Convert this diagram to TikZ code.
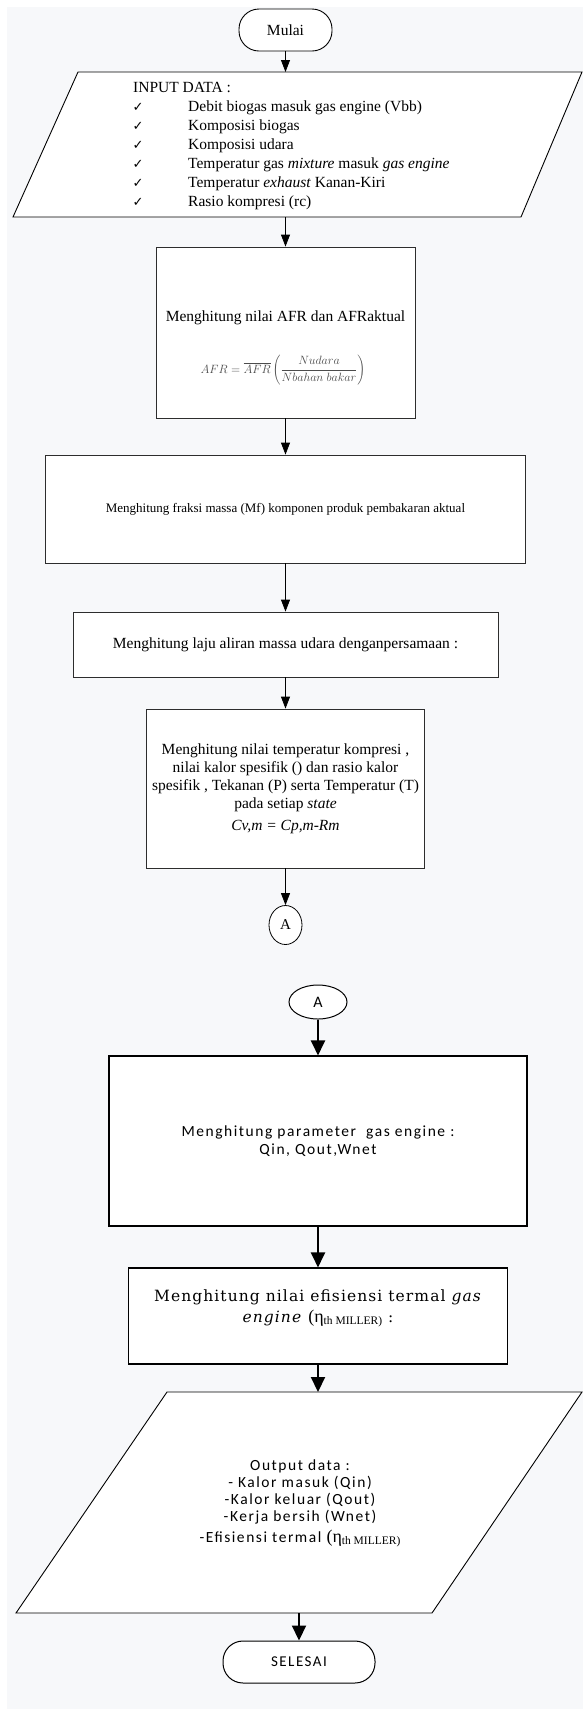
\documentclass[tikz,border=0pt]{standalone}
\usepackage{fontspec}
\setmainfont{Liberation Serif}
\newfontfamily\calib{Carlito}[LetterSpace=10]
\newfontfamily\calibplain{Carlito}
\newfontfamily\dvserif{DejaVu Serif}[LetterSpace=7]
\newfontfamily\dvsans{DejaVu Sans}
\usetikzlibrary{arrows.meta,shapes.geometric}
\definecolor{bgc}{RGB}{247,248,250}
\definecolor{bord}{RGB}{45,45,45}
\begin{document}
\begin{tikzpicture}[x=1pt,y=-1pt,
  box/.style={draw=bord,line width=0.8pt,fill=white,rectangle,inner sep=0pt,align=center},
  bigbox/.style={draw=black,line width=1.1pt,fill=white,rectangle,inner sep=0pt,align=center},
  term/.style={draw=black,line width=0.9pt,fill=white,rectangle,rounded corners=20pt,inner sep=0pt},
  iobox/.style={draw=black,line width=0.9pt,fill=white,line join=miter},
  arr/.style={line width=0.8pt,-{Triangle[length=12pt,width=9pt]}},
  bigarr/.style={line width=2pt,-{Triangle[length=15pt,width=14pt]}},
  txt/.style={inner sep=0pt,align=center,font=\fontsize{15.5}{18}\selectfont},
  ltxt/.style={inner sep=0pt,anchor=base west,font=\fontsize{15.5}{18}\selectfont},
  ck/.style={inner sep=0pt,anchor=base,font=\dvsans\fontsize{13}{14}\selectfont},
]
% background
\fill[white] (0,0) rectangle (583,1709);
\fill[bgc] (7,7) rectangle (583,1709);
\useasboundingbox (0,0) rectangle (583,1709);

% start
\node[term,minimum width=93pt,minimum height=42pt,font=\fontsize{15.5}{18}\selectfont] (mulai) at (285.5,30) {Mulai};

% input parallelogram
\draw[iobox] (78,72) -- (582,72) -- (521,217) -- (13,217) -- cycle;
\coordinate (inTop) at (285.5,72);
\coordinate (inBot) at (285.5,217);
\node[ltxt] (inhead) at (133,92) {INPUT DATA :};
\foreach \i/\t in {1/{Debit biogas masuk gas engine (Vbb)},
                   2/{Komposisi biogas},
                   3/{Komposisi udara},
                   4/{Temperatur gas \textit{mixture} masuk \textit{gas engine}},
                   5/{Temperatur \textit{exhaust} Kanan-Kiri},
                   6/{Rasio kompresi (rc)}}{
  \node[ck] (ck\i) at (138,92+19*\i) {✓};
  \node[ltxt] (it\i) at (188,92+19*\i) {\t};
}

% AFR box
\node[box,minimum width=259pt,minimum height=171pt] (afr) at (285.5,332.5) {};
\node[txt] (afrt) at (285.5,318) {Menghitung nilai AFR dan AFRaktual};
\node[inner sep=0pt,text=black!70,font=\fontsize{13}{15}\selectfont] (afrf) at (283,370)
  {$\displaystyle AFR = \overline{AFR}\left(\frac{Nudara}{Nbahan\ bakar}\right)$};

% Mf box
\node[box,minimum width=480pt,minimum height=108pt,font=\fontsize{13}{15}\selectfont] (mf) at (285.5,509)
  {Menghitung fraksi massa (Mf) komponen produk pembakaran aktual};

% laju box
\node[box,minimum width=425pt,minimum height=65pt,font=\fontsize{15.5}{18}\selectfont] (laju) at (285.5,644.5)
  {Menghitung laju aliran massa udara denganpersamaan :};

% temperature box
\node[box,minimum width=278pt,minimum height=159pt,font=\fontsize{15.5}{18}\selectfont] (temp) at (285.5,788.5)
  {Menghitung nilai temperatur kompresi ,\\
   nilai kalor spesifik () dan rasio kalor\\
   spesifik , Tekanan (P) serta Temperatur (T)\\
   pada setiap \textit{state}\\[4pt]
   \textit{Cv,m = Cp,m-Rm}};

% connector A (first)
\node[draw=black,line width=0.8pt,fill=white,ellipse,minimum width=33pt,minimum height=39pt,inner sep=0pt,
      font=\fontsize{15}{18}\selectfont] (a1) at (285.5,925) {A};

% connector A (second)
\node[draw=black,line width=1pt,fill=white,ellipse,minimum width=58pt,minimum height=34pt,inner sep=0pt,
      font=\calibplain\fontsize{16}{18}\selectfont] (a2) at (318,1002) {A};

% parameter box
\node[bigbox,minimum width=418pt,minimum height=170pt,font=\calib\fontsize{15.5}{18}\selectfont] (param) at (318,1141)
  {Menghitung parameter\ \ gas engine :\\Qin, Qout,Wnet};

% efficiency box
\node[bigbox,minimum width=379pt,minimum height=96pt] (eff) at (318,1316) {};
\node[inner sep=0pt,align=center,font=\dvserif\fontsize{15.5}{21}\selectfont] (efft) at (318,1308)
  {Menghitung nilai efisiensi termal \textit{gas}\\
   \textit{engine} {\rmfamily\fontsize{18}{21}\selectfont(η}\raisebox{-2pt}{\rmfamily\fontsize{11.5}{11}\selectfont th MILLER)} :};

% output parallelogram
\draw[iobox] (167,1392) -- (582,1392) -- (432,1613) -- (16,1613) -- cycle;
\coordinate (outTop) at (318,1392);
\coordinate (outBot) at (299,1613);
\node[inner sep=0pt,align=center,font=\calib\fontsize{15.5}{17}\selectfont] (outt) at (300,1503)
  {Output data :\\
   - Kalor masuk (Qin)\\
   -Kalor keluar (Qout)\\
   -Kerja bersih (Wnet)\\[4pt]
   -Efisiensi termal {\rmfamily\fontsize{18}{17}\selectfont(η}\raisebox{-2pt}{\rmfamily\fontsize{11.5}{11}\selectfont th MILLER)}};

% end
\node[term,line width=1pt,minimum width=152pt,minimum height=42pt,font=\calib\fontsize{15}{18}\selectfont] (sel) at (299,1662) {SELESAI};

% connectors
\draw[arr] (mulai.south) -- (inTop);
\draw[arr] (inBot) -- (afr.north);
\draw[arr] (afr.south) -- (mf.north);
\draw[arr] (mf.south) -- (laju.north);
\draw[arr] (laju.south) -- (temp.north);
\draw[arr] (temp.south) -- (a1.north);
\draw[bigarr] (a2.south) -- (param.north);
\draw[bigarr] (param.south) -- (eff.north);
\draw[bigarr] (eff.south) -- (outTop);
\draw[bigarr] (outBot) -- (sel.north);
\end{tikzpicture}
\end{document}
